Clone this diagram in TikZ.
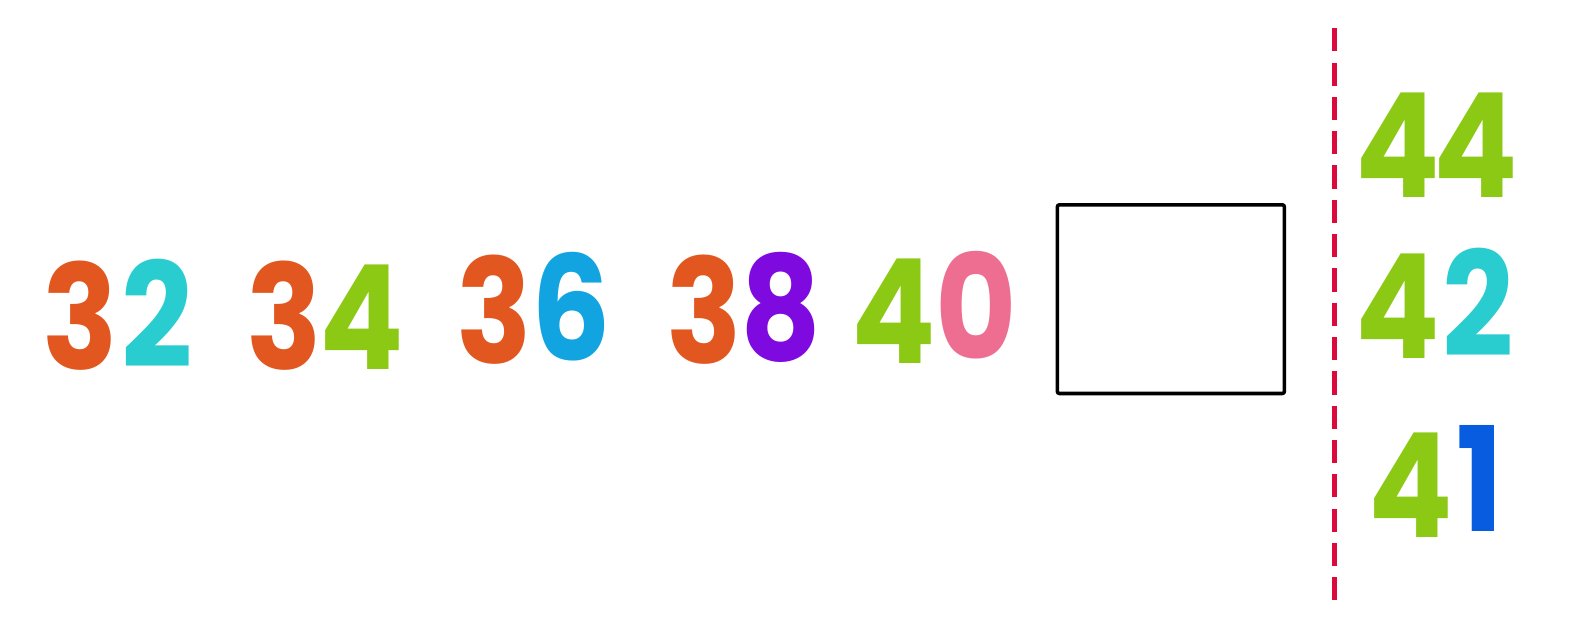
\documentclass[tikz,border=0pt]{standalone}
\usepackage{fontspec}
\setmainfont{Fira Sans}
\newfontfamily\digitfont{Poppins}
\definecolor{cOrange}{HTML}{E2561F}
\definecolor{cCyan}{HTML}{29CCCF}
\definecolor{cGreen}{HTML}{8CC915}
\definecolor{cSky}{HTML}{12A4E0}
\definecolor{cPurple}{HTML}{7E0AE0}
\definecolor{cPink}{HTML}{EE6E91}
\definecolor{cBlue}{HTML}{085CE0}
\definecolor{cRed}{HTML}{DC0A3C}
\tikzset{
  digit/.style={anchor=base, inner sep=0pt, font=\digitfont\bfseries\fontsize{144}{144}\selectfont},
  answerbox/.style={draw=black, line width=3.5pt, rounded corners=2pt},
  divider/.style={draw=cRed, line width=5pt, dash pattern=on 23pt off 11pt}
}
\newcommand{\dg}[1]{\scalebox{0.86}[1]{#1}}
\begin{document}
\begin{tikzpicture}[x=1pt,y=-1pt]
\useasboundingbox (0,0) rectangle (1568,625);
% sequence
\node[digit, text=cOrange] (d1a) at (80,366) {\dg{3}};
\node[digit, text=cCyan]   (d1b) at (156,364) {\dg{2}};
\node[digit, text=cOrange] (d2a) at (282,366) {\dg{3}};
\node[digit, text=cGreen]  (d2b) at (359,366) {\dg{4}};
\node[digit, text=cOrange] (d3a) at (490,360) {\dg{3}};
\node[digit, text=cSky]    (d3b) at (566,357) {\dg{6}};
\node[digit, text=cOrange] (d4a) at (698,360) {\dg{3}};
\node[digit, text=cPurple] (d4b) at (774,357) {\dg{8}};
\node[digit, text=cGreen]  (d5a) at (886,360) {\dg{4}};
\node[digit, text=cPink]   (d5b) at (968,356) {\dg{0}};
% empty box
\node[answerbox, minimum width=225pt, minimum height=187pt] (box) at (1160.5,296.5) {};
% divider
\coordinate (top) at (1323,28);
\coordinate (bot) at (1323,595);
\draw[divider] (top) -- (bot);
% options
\node[digit, text=cGreen] (o1a) at (1385,196) {\dg{4}};
\node[digit, text=cGreen] (o1b) at (1463,196) {\dg{4}};
\node[digit, text=cGreen] (o2a) at (1385,355) {\dg{4}};
\node[digit, text=cCyan]  (o2b) at (1465,353) {\dg{2}};
\node[digit, text=cGreen] (o3a) at (1398,533) {\dg{4}};
\node[digit, text=cBlue]  (o3b) at (1467,527) {\dg{1}};
\end{tikzpicture}
\end{document}
